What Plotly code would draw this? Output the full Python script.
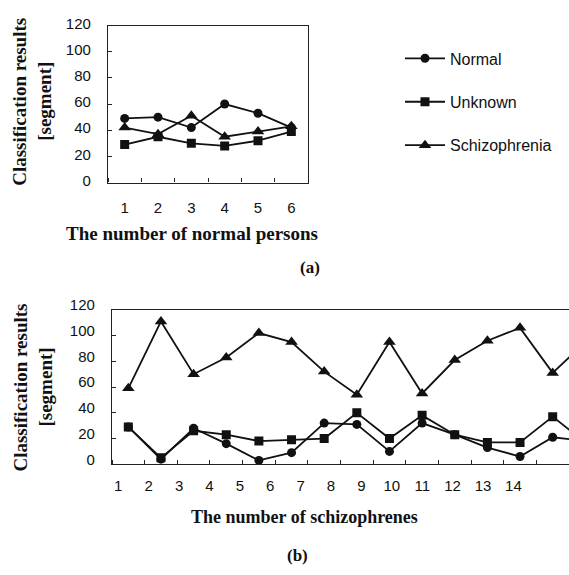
import plotly.graph_objects as go

W, H = 569, 575

# ---- data: panel (a) ----
persons = [1, 2, 3, 4, 5, 6]
a_normal = [49, 50, 42, 60, 53, 42]
a_unknown = [29, 35, 30, 28, 32, 39]
a_schizo = [42, 37, 51, 35, 39, 43]

# ---- data: panel (b) ----
schizophrenes = [1, 2, 3, 4, 5, 6, 7, 8, 9, 10, 11, 12, 13, 14, 15]
b_normal = [29, 4, 28, 16, 3, 9, 32, 31, 10, 32, 23, 13, 6, 21, 18]
b_unknown = [29, 5, 26, 23, 18, 19, 20, 40, 20, 38, 23, 17, 17, 37, 17]
b_schizo = [59, 111, 70, 83, 102, 95, 72, 54, 95, 55, 81, 96, 106, 71, 95]

tick_labels_a = [str(v) for v in persons]
tick_labels_b = [str(v) for v in schizophrenes[:14]]
y_ticks = [0, 20, 40, 60, 80, 100, 120]

series_names = ["Normal", "Unknown", "Schizophrenia"]
symbols = ["circle", "square", "triangle-up"]
sizes = [9, 9, 11]

def px_x(p):
    return p / W

def px_y(p):
    return 1 - p / H

fig = go.Figure()

legends = ["legend", "legend2", "legend3"]
for name, vals, sym, sz, lg in zip(series_names, [a_normal, a_unknown, a_schizo], symbols, sizes, legends):
    fig.add_trace(go.Scatter(
        x=persons, y=vals, name=name, mode="lines+markers",
        line=dict(color="#111111", width=1.8),
        marker=dict(symbol=sym, size=sz, color="#111111"),
        xaxis="x", yaxis="y", legend=lg, showlegend=True,
    ))

for name, vals, sym, sz in zip(series_names, [b_normal, b_unknown, b_schizo], symbols, sizes):
    fig.add_trace(go.Scatter(
        x=schizophrenes, y=vals, name=name, mode="lines+markers",
        line=dict(color="#111111", width=1.8),
        marker=dict(symbol=sym, size=sz, color="#111111"),
        xaxis="x2", yaxis="y2", showlegend=False, cliponaxis=True,
    ))

# invisible trace to activate label axis for panel (b)
fig.add_trace(go.Scatter(x=[1], y=[None], xaxis="x3", yaxis="y2",
                         showlegend=False, hoverinfo="skip"))

tick_font = dict(family="Liberation Sans, Arial, sans-serif", size=15, color="#111111")
line_col = "#222222"

a_dom_x = [px_x(108), px_x(308)]
a_dom_y = [px_y(174.6), px_y(12)]
b_dom_x = [px_x(112), 1.0]
b_dom_y = [px_y(466.5), px_y(306.5)]

fig.update_layout(
    width=W, height=H,
    margin=dict(l=0, r=0, t=0, b=0),
    paper_bgcolor="white", plot_bgcolor="white",
    xaxis=dict(domain=a_dom_x, anchor="y", range=[0.5, 6.5],
               tickvals=persons, ticktext=tick_labels_a, ticks="",
               minor=dict(ticks="inside", tick0=0.5, dtick=1, ticklen=4, tickcolor=line_col),
               showline=True, mirror=True, linecolor=line_col, linewidth=1.3,
               showgrid=False, zeroline=False, tickfont=tick_font, ticklabelstandoff=11),
    yaxis=dict(domain=a_dom_y, anchor="x", range=[0, 120],
               tickvals=y_ticks, ticks="inside", ticklen=4, tickcolor=line_col,
               showline=True, mirror=True, linecolor=line_col, linewidth=1.3,
               showgrid=False, zeroline=False, tickfont=tick_font, ticklabelstandoff=13,
               ticklabelshift=-2),
    xaxis2=dict(domain=b_dom_x, anchor="y2", range=[0.5, 14.5],
                tickvals=schizophrenes, showticklabels=False, ticks="",
                minor=dict(ticks="inside", tick0=0.5, dtick=1, ticklen=4, tickcolor=line_col),
                showline=True, mirror=True, linecolor=line_col, linewidth=1.3,
                showgrid=False, zeroline=False),
    xaxis3=dict(overlaying="x2", anchor="y2", side="bottom", range=[0.793, 15.83],
                tickvals=schizophrenes[:14], ticktext=tick_labels_b, ticks="",
                showline=False, showgrid=False, zeroline=False,
                tickfont=tick_font, ticklabelstandoff=11),
    yaxis2=dict(domain=b_dom_y, anchor="x2", range=[0, 120],
                tickvals=y_ticks, ticks="inside", ticklen=4, tickcolor=line_col,
                showline=True, mirror=False, linecolor=line_col, linewidth=1.3,
                showgrid=False, zeroline=False, tickfont=tick_font, ticklabelstandoff=13,
                ticklabelshift=-5),
    showlegend=True,
)

leg_font = dict(family="Liberation Sans, Arial, sans-serif", size=16, color="#111111")
for lg, yc in zip(legends, [46, 91, 136]):
    fig.update_layout({lg: dict(x=px_x(400), y=px_y(yc), xanchor="left", yanchor="middle",
                               bgcolor="rgba(0,0,0,0)", font=leg_font, itemwidth=40,
                               borderwidth=0)})

title_font = dict(family="Liberation Serif, Times New Roman, serif", size=19, color="#111111")
ann = []
# panel (a) titles
ann.append(dict(text="<b>Classification results</b>", x=px_x(20), y=px_y(91), textangle=-90,
                font=title_font))
ann.append(dict(text="<b>[segment]</b>", x=px_x(45), y=px_y(91), textangle=-90, font=title_font))
ann.append(dict(text="<b>The number of normal persons</b>", x=px_x(192), y=px_y(227), font=title_font))
ann.append(dict(text="<b>(a)</b>", x=px_x(310), y=px_y(263), font=dict(title_font, size=17)))
# panel (b) titles
ann.append(dict(text="<b>Classification results</b>", x=px_x(21), y=px_y(387), textangle=-90,
                font=title_font))
ann.append(dict(text="<b>[segment]</b>", x=px_x(46), y=px_y(387), textangle=-90, font=title_font))
ann.append(dict(text="<b>The number of schizophrenes</b>", x=px_x(304.5), y=px_y(521),
                font=dict(title_font, size=18)))
ann.append(dict(text="<b>(b)</b>", x=px_x(297), y=px_y(561), font=dict(title_font, size=17)))
for a in ann:
    a.update(xref="paper", yref="paper", showarrow=False, xanchor="center", yanchor="middle")
fig.update_layout(annotations=ann)

fig.write_html("out.html")
